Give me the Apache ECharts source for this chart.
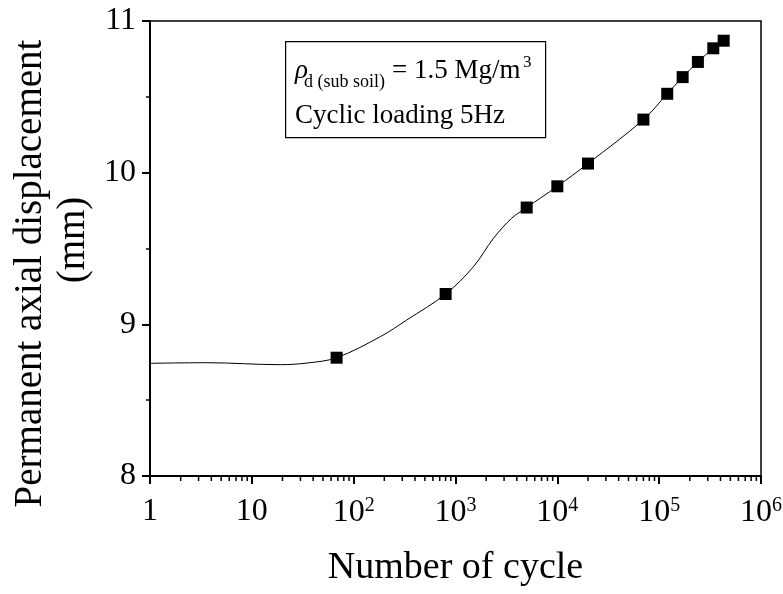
<!DOCTYPE html>
<html>
<head>
<meta charset="utf-8">
<script src="https://cdn.jsdelivr.net/npm/echarts@6/dist/echarts.min.js"></script>
<style>html,body{margin:0;padding:0;background:#fff}#c{width:783px;height:594px}</style>
</head>
<body>
<div id="c"></div>
<script>
// measured points
var cycles = [68, 800, 5000, 10000, 20000, 70000, 120000, 170000, 240000, 340000, 430000];
var disp = [8.78, 9.20, 9.77, 9.91, 10.06, 10.35, 10.52, 10.63, 10.73, 10.82, 10.87];
// fitted curve
var fitCycles = [1, 3.6, 19, 35, 68, 182, 333, 800, 1500, 2360, 3570, 5000, 10000, 20000, 70000, 120000, 170000, 240000, 340000, 430000];
var fitDisp = [8.743, 8.747, 8.734, 8.745, 8.78, 8.918, 9.029, 9.20, 9.38, 9.567, 9.70, 9.77, 9.91, 10.06, 10.35, 10.52, 10.63, 10.73, 10.82, 10.87];
// minor tick values on the log axis
var xMinorTicks = [];
[1, 10, 100, 1000, 10000, 100000].forEach(function (d) {
  for (var k = 2; k <= 9; k++) xMinorTicks.push(k * d);
});
var xTitle = 'Number of cycle';
var yTitle1 = 'Permanent axial displacement';
var yTitle2 = '(mm)';

var FONT = '"Liberation Serif", "Times New Roman", serif';
var chart = echarts.init(document.getElementById('c'), null, {renderer: 'canvas'});

function zip(a, b) { return a.map(function (v, i) { return [v, b[i]]; }); }

var option = {
  backgroundColor: '#fff',
  animation: false,
  grid: {left: 150, right: 22, top: 21, bottom: 118, outerBoundsMode: 'none', containLabel: false,
         show: true, borderColor: '#000', borderWidth: 1.5, backgroundColor: 'transparent'},
  xAxis: {
    type: 'log', logBase: 10, min: 1, max: 1000000,
    name: xTitle, nameLocation: 'middle', nameGap: 73,
    nameTextStyle: {fontFamily: FONT, fontSize: 38, color: '#000'},
    axisLine: {lineStyle: {color: '#000', width: 2}},
    axisTick: {show: true, length: 8, lineStyle: {color: '#000', width: 2}},
    minorTick: {show: false},
    splitLine: {show: false},
    axisLabel: {
      margin: 20, color: '#000', fontFamily: FONT, fontSize: 32,
      formatter: function (v) {
        var e = Math.round(Math.log10(v));
        if (e === 0) return '1';
        if (e === 1) return '10';
        return '10{sup|' + e + '}';
      },
      rich: {sup: {fontFamily: FONT, fontSize: 20, color: '#000', verticalAlign: 'top', padding: [0, 0, 14, 0]}}
    }
  },
  yAxis: {
    type: 'value', min: 8, max: 11, interval: 1,
    name: '{a|' + yTitle1 + '}\n{b|' + yTitle2 + '}',
    nameLocation: 'middle', nameRotate: 90, nameGap: 49,
    nameTextStyle: {
      fontFamily: FONT, fontSize: 39, color: '#000',
      rich: {
        a: {fontFamily: FONT, fontSize: 39, color: '#000', lineHeight: 43, padding: [0, 50, 0, 0]},
        b: {fontFamily: FONT, fontSize: 39, color: '#000', lineHeight: 43, padding: [0, 0, 0, 17]}
      }
    },
    axisLine: {show: true, lineStyle: {color: '#000', width: 2}},
    axisTick: {show: true, length: 8, lineStyle: {color: '#000', width: 2}},
    minorTick: {show: true, splitNumber: 2, length: 4, lineStyle: {color: '#000', width: 1.5}},
    splitLine: {show: false},
    axisLabel: {margin: 14, color: '#000', fontFamily: FONT, fontSize: 32}
  },
  series: [
    {
      type: 'line', data: zip(fitCycles, fitDisp), smooth: 0.35, showSymbol: false,
      lineStyle: {color: '#000', width: 1}, z: 2
    },
    {
      type: 'scatter', data: zip(cycles, disp), symbol: 'rect', symbolSize: 12,
      itemStyle: {color: '#000', opacity: 1}, z: 3
    },
    {
      type: 'custom', clip: false, silent: true, z: 4,
      data: xMinorTicks.map(function (v) { return [v, 8]; }),
      renderItem: function (params, api) {
        var p = api.coord([api.value(0), api.value(1)]);
        return {type: 'line', shape: {x1: p[0], y1: p[1], x2: p[0], y2: p[1] + 5},
                style: {stroke: '#000', lineWidth: 1.5}};
      }
    }
  ],
  graphic: [
    {type: 'rect', left: 285, top: 41, shape: {width: 260, height: 96},
     style: {fill: '#fff', stroke: '#000', lineWidth: 1.2}, z: 10},
    {type: 'text', x: 295, y: 57, z: 11,
     style: {text: 'ρ', fontFamily: FONT, fontStyle: 'italic', fontSize: 27, fill: '#000', verticalAlign: 'top'}},
    {type: 'text', x: 304, y: 73, z: 11,
     style: {text: 'd (sub soil)', fontFamily: FONT, fontSize: 18, fill: '#000', verticalAlign: 'top'}},
    {type: 'text', x: 392, y: 57, z: 11,
     style: {text: '= 1.5 Mg/m', fontFamily: FONT, fontSize: 27, fill: '#000', verticalAlign: 'top'}},
    {type: 'text', x: 523, y: 54, z: 11,
     style: {text: '3', fontFamily: FONT, fontSize: 17, fill: '#000', verticalAlign: 'top'}},
    {type: 'text', x: 295, y: 102, z: 11,
     style: {text: 'Cyclic loading 5Hz', fontFamily: FONT, fontSize: 27, fill: '#000', verticalAlign: 'top'}}
  ]
};
chart.setOption(option);
</script>
</body>
</html>
